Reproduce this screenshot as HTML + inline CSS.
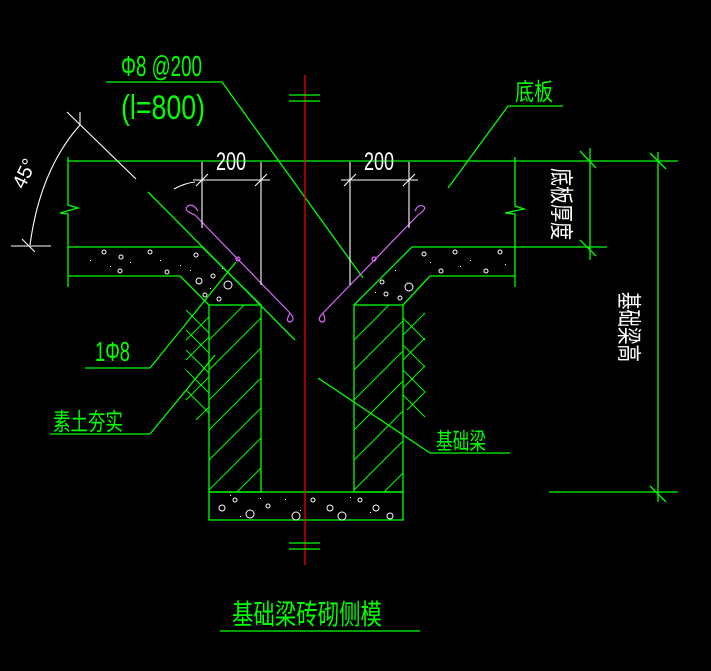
<!DOCTYPE html>
<html><head><meta charset="utf-8"><style>
html,body{margin:0;padding:0;background:#000;width:711px;height:671px;overflow:hidden}
svg{display:block}
text{font-family:"Liberation Sans","Noto Sans CJK SC",sans-serif}
</style></head><body>
<svg width="711" height="671" viewBox="0 0 711 671" xmlns="http://www.w3.org/2000/svg">
<rect width="711" height="671" fill="#000"/>
<g stroke="#00ff00" stroke-width="1.3" fill="none">
<line x1="68" y1="161" x2="678" y2="161"/>
<polyline points="68,157 68,205 78,208 60,213 68,214 68,287"/>
<polyline points="515,157 515,206 524,209 505,213 515,214 515,287"/>
<line x1="68" y1="247" x2="202" y2="247"/>
<line x1="68" y1="276" x2="180" y2="276"/>
<line x1="202" y1="247" x2="261" y2="305"/>
<line x1="180" y1="276" x2="209" y2="305"/>
<line x1="412" y1="247" x2="515" y2="247"/>
<line x1="430" y1="276" x2="515" y2="276"/>
<line x1="412" y1="247" x2="354" y2="305"/>
<line x1="430" y1="276" x2="403" y2="305"/>
<line x1="515" y1="247" x2="607" y2="247"/>
<rect x="209" y="305" width="52" height="187"/>
<rect x="354" y="305" width="49" height="187"/>
<rect x="209" y="492" width="194" height="28"/>
<g stroke-width="1">
<line x1="209" y1="340" x2="244" y2="305"/><line x1="209" y1="370" x2="261" y2="318"/>
<line x1="209" y1="400" x2="261" y2="348"/><line x1="209" y1="430" x2="261" y2="378"/>
<line x1="209" y1="460" x2="261" y2="408"/><line x1="209" y1="490" x2="261" y2="438"/>
<line x1="237" y1="492" x2="261" y2="468"/>
<line x1="354" y1="340" x2="389" y2="305"/><line x1="354" y1="370" x2="403" y2="321"/>
<line x1="354" y1="400" x2="403" y2="351"/><line x1="354" y1="430" x2="403" y2="381"/>
<line x1="354" y1="460" x2="403" y2="411"/><line x1="354" y1="490" x2="403" y2="441"/>
<line x1="384" y1="492" x2="403" y2="473"/>
<line x1="186" y1="310" x2="209" y2="333"/><line x1="186" y1="330" x2="209" y2="353"/>
<line x1="186" y1="350" x2="209" y2="373"/><line x1="186" y1="370" x2="209" y2="393"/>
<line x1="186" y1="390" x2="209" y2="413"/>
<line x1="186" y1="340" x2="209" y2="317"/><line x1="186" y1="360" x2="209" y2="337"/>
<line x1="186" y1="400" x2="209" y2="377"/><line x1="196" y1="420" x2="209" y2="407"/>
<line x1="403" y1="318" x2="425" y2="340"/><line x1="403" y1="345" x2="425" y2="367"/>
<line x1="403" y1="370" x2="425" y2="392"/><line x1="403" y1="395" x2="425" y2="417"/>
<line x1="403" y1="335" x2="425" y2="313"/><line x1="403" y1="360" x2="425" y2="338"/>
<line x1="403" y1="388" x2="425" y2="366"/><line x1="407" y1="410" x2="425" y2="392"/>
</g>
<line x1="148" y1="192" x2="295" y2="340"/>
<line x1="106" y1="82" x2="222" y2="82"/>
<line x1="222" y1="82" x2="363" y2="278"/>
<line x1="508" y1="106" x2="563" y2="106"/>
<line x1="508" y1="106" x2="448" y2="188"/>
<line x1="85" y1="368" x2="150" y2="368"/>
<line x1="150" y1="368" x2="236" y2="262"/>
<line x1="50" y1="434" x2="150" y2="434"/>
<line x1="150" y1="434" x2="215" y2="355"/>
<line x1="430" y1="453" x2="510" y2="453"/>
<line x1="430" y1="453" x2="318" y2="378"/>
<line x1="590" y1="148" x2="590" y2="260"/>
<line x1="580" y1="151" x2="596" y2="168"/><line x1="580" y1="240" x2="596" y2="256"/>
<line x1="658" y1="152" x2="658" y2="502"/>
<line x1="650" y1="153" x2="666" y2="169"/><line x1="650" y1="486" x2="666" y2="502"/>
<line x1="549" y1="492" x2="678" y2="492"/>
<line x1="220" y1="631" x2="420" y2="631"/>
</g>
<g stroke="#fff" stroke-width="1" fill="none">
<circle cx="104" cy="252" r="2"/><circle cx="150" cy="252" r="2"/><circle cx="196" cy="255" r="2"/><circle cx="121" cy="257" r="2"/>
<circle cx="120" cy="271" r="2"/><circle cx="167" cy="272" r="2"/><circle cx="213" cy="276" r="2"/><circle cx="199" cy="281" r="3"/>
<circle cx="228" cy="285" r="4"/><circle cx="205" cy="295" r="2"/><circle cx="219" cy="299" r="2"/>
<circle cx="455" cy="252" r="2"/><circle cx="500" cy="252" r="2"/><circle cx="424" cy="254" r="2"/><circle cx="441" cy="271" r="2"/><circle cx="486" cy="271" r="2"/>
<circle cx="382" cy="282" r="2"/><circle cx="409" cy="287" r="4"/><circle cx="386" cy="294" r="2"/><circle cx="400" cy="298" r="2"/>
<circle cx="235" cy="500" r="2"/><circle cx="222" cy="508" r="3"/><circle cx="250" cy="514" r="4"/><circle cx="268" cy="506" r="2"/>
<circle cx="296" cy="516" r="4"/><circle cx="313" cy="500" r="2"/><circle cx="330" cy="508" r="3"/><circle cx="342" cy="516" r="4"/>
<circle cx="360" cy="500" r="2"/><circle cx="376" cy="508" r="3"/><circle cx="390" cy="516" r="3"/>
</g>
<g fill="#fff">
<rect x="90" y="260" width="1" height="1"/><rect x="130" y="262" width="1" height="1"/><rect x="160" y="260" width="1" height="1"/><rect x="180" y="265" width="1" height="1"/><rect x="110" y="266" width="1" height="1"/><rect x="190" y="270" width="1" height="1"/><rect x="210" y="288" width="1" height="1"/><rect x="222" y="268" width="1" height="1"/>
<rect x="430" y="262" width="1" height="1"/><rect x="470" y="260" width="1" height="1"/><rect x="505" y="264" width="1" height="1"/><rect x="460" y="266" width="1" height="1"/><rect x="395" y="270" width="1" height="1"/><rect x="375" y="292" width="1" height="1"/>
<rect x="230" y="495" width="1" height="1"/><rect x="260" y="498" width="1" height="1"/><rect x="285" y="499" width="1" height="1"/><rect x="300" y="510" width="1" height="1"/><rect x="350" y="497" width="1" height="1"/><rect x="370" y="512" width="1" height="1"/><rect x="240" y="516" width="1" height="1"/>
</g>
<g stroke="#ff0000" stroke-width="1.2"><line x1="305" y1="75" x2="305" y2="565"/></g>
<g stroke="#00ff00" stroke-width="1.2">
<line x1="289" y1="95" x2="320" y2="95"/><line x1="289" y1="101" x2="320" y2="101"/>
<line x1="289" y1="543" x2="320" y2="543"/><line x1="289" y1="549" x2="320" y2="549"/>
</g>
<g stroke="#dd66ff" stroke-width="1.2" fill="none">
<path d="M195,215 L290,313 Q296,320 290,322 Q285,322 290,313"/>
<path d="M195,215 Q182,210 188,206 Q193,203 198,211"/>
<path d="M418,215 L323,313 Q316,320 322,322 Q327,322 323,313"/>
<path d="M418,215 Q428,208 423,206 Q418,204 415,211"/>
<circle cx="238" cy="259" r="2"/><circle cx="374" cy="259" r="2"/>
</g>
<g stroke="#fff" stroke-width="1.1" fill="none">
<line x1="202" y1="162" x2="202" y2="228"/><line x1="261" y1="162" x2="261" y2="285"/>
<line x1="193" y1="180" x2="270" y2="180"/>
<line x1="196" y1="186" x2="208" y2="174"/><line x1="255" y1="186" x2="267" y2="174"/>
<path d="M174,189 Q185,183 195,182"/>
<line x1="350" y1="162" x2="350" y2="285"/><line x1="409" y1="162" x2="409" y2="228"/>
<line x1="341" y1="180" x2="418" y2="180"/>
<line x1="344" y1="186" x2="356" y2="174"/><line x1="403" y1="186" x2="415" y2="174"/>
<line x1="67" y1="112" x2="136" y2="179"/>
<line x1="80" y1="112" x2="80" y2="125"/>
<line x1="11" y1="246" x2="51" y2="246"/><line x1="22" y1="239" x2="35" y2="252"/>
<path d="M80,125 Q40,170 30,245"/>
</g>
<g fill="#00ff00">
<text x="121" y="76" font-size="29" textLength="81" lengthAdjust="spacingAndGlyphs">Φ8 @200</text>
<text x="121" y="119" font-size="34" textLength="84" lengthAdjust="spacingAndGlyphs">(l=800)</text>
<text x="515" y="100" font-size="24" textLength="38" lengthAdjust="spacingAndGlyphs">底板</text>
<text x="95" y="361" font-size="28" textLength="35" lengthAdjust="spacingAndGlyphs">1Φ8</text>
<text x="53" y="430" font-size="24" textLength="70" lengthAdjust="spacingAndGlyphs">素土夯实</text>
<text x="436" y="449" font-size="23" textLength="50" lengthAdjust="spacingAndGlyphs">基础梁</text>
<text x="232" y="624" font-size="28" textLength="150" lengthAdjust="spacingAndGlyphs">基础梁砖砌侧模</text>
</g>
<g fill="#fff">
<text x="216" y="170" font-size="25" textLength="30" lengthAdjust="spacingAndGlyphs">200</text>
<text x="364" y="170" font-size="25" textLength="30" lengthAdjust="spacingAndGlyphs">200</text>
<text font-size="20" transform="translate(24,190) rotate(-65)">45°</text>
<text font-size="24" transform="translate(553,168) rotate(90)" textLength="72" lengthAdjust="spacingAndGlyphs">底板厚度</text>
<text font-size="25" transform="translate(620,292) rotate(90)" textLength="70" lengthAdjust="spacingAndGlyphs">基础梁高</text>
</g>
</svg>
</body></html>
